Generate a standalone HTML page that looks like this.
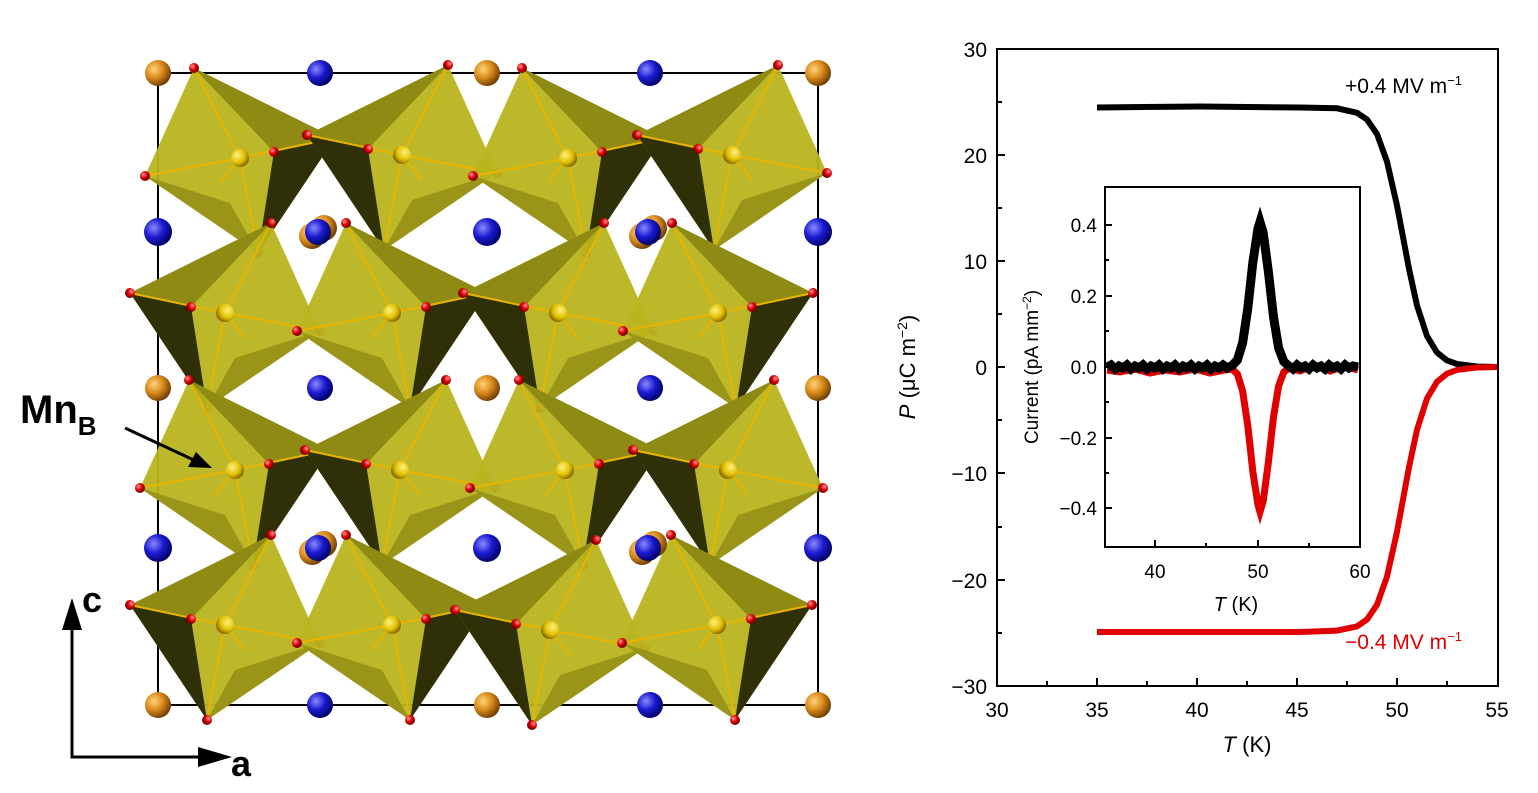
<!DOCTYPE html>
<html><head><meta charset="utf-8"><style>
html,body{margin:0;padding:0;background:#fff;}
svg{display:block;font-family:"Liberation Sans",sans-serif;}
</style></head><body>
<svg width="1538" height="793" viewBox="0 0 1538 793" xmlns="http://www.w3.org/2000/svg">
<defs>
<radialGradient id="gO" cx="0.35" cy="0.35" r="0.7"><stop offset="0" stop-color="#ffd27a"/><stop offset="0.5" stop-color="#d98a1a"/><stop offset="1" stop-color="#6a3a05"/></radialGradient>
<radialGradient id="gB" cx="0.35" cy="0.35" r="0.7"><stop offset="0" stop-color="#8a8aff"/><stop offset="0.5" stop-color="#1a1ad0"/><stop offset="1" stop-color="#000060"/></radialGradient>
<radialGradient id="gR" cx="0.35" cy="0.35" r="0.7"><stop offset="0" stop-color="#ff9a9a"/><stop offset="0.5" stop-color="#dd0000"/><stop offset="1" stop-color="#600000"/></radialGradient>
<radialGradient id="gY" cx="0.35" cy="0.35" r="0.7"><stop offset="0" stop-color="#fff080"/><stop offset="0.6" stop-color="#e0c000"/><stop offset="1" stop-color="#806000"/></radialGradient>
<g id="octA">
<polygon points="-46,-90 95,-20 18,95 -95,18" fill="#b9b41e" fill-opacity="0.95"/>
<polygon points="-46,-90 95,-20 34,-6" fill="#8e8a14"/>
<polygon points="34,-6 95,-20 18,95" fill="#2f2f08"/>
<polygon points="-95,18 18,95 -10,45" fill="#9a9518"/>
<g stroke="#e8b400" stroke-width="2"><line x1="0" y1="0" x2="-46" y2="-90"/><line x1="0" y1="0" x2="95" y2="-20"/><line x1="0" y1="0" x2="18" y2="95"/><line x1="0" y1="0" x2="-95" y2="18"/><line x1="0" y1="0" x2="-20" y2="25"/></g>
<circle r="9" fill="url(#gY)"/>
<circle cx="-46" cy="-90" r="5" fill="url(#gR)"/><circle cx="95" cy="-20" r="5" fill="url(#gR)"/><circle cx="18" cy="95" r="5" fill="url(#gR)"/><circle cx="-95" cy="18" r="5" fill="url(#gR)"/><circle cx="34" cy="-6" r="5" fill="url(#gR)"/>
</g>
<g id="octB"><use href="#octA" transform="scale(-1,1)"/></g>
</defs>

<!-- crystal -->
<rect x="158" y="73" width="660" height="632" fill="none" stroke="#000" stroke-width="2"/>
<use href="#octA" x="240" y="158"/><use href="#octB" x="402" y="155"/><use href="#octA" x="568" y="158"/><use href="#octB" x="732" y="155"/>
<use href="#octB" x="225" y="313"/><use href="#octA" x="392" y="313"/><use href="#octB" x="558" y="313"/><use href="#octA" x="718" y="313"/>
<use href="#octA" x="235" y="470"/><use href="#octB" x="400" y="470"/><use href="#octA" x="565" y="470"/><use href="#octB" x="728" y="470"/>
<use href="#octB" x="225" y="625"/><use href="#octA" x="392" y="625"/><use href="#octB" x="550" y="630"/><use href="#octA" x="717" y="625"/>
<g fill="url(#gO)">
<circle cx="158" cy="73" r="13"/><circle cx="487" cy="73" r="13"/><circle cx="818" cy="73" r="13"/>
<circle cx="158" cy="388" r="13"/><circle cx="487" cy="388" r="13"/><circle cx="818" cy="388" r="13"/>
<circle cx="158" cy="705" r="13"/><circle cx="487" cy="705" r="13"/><circle cx="818" cy="705" r="13"/>
<circle cx="312" cy="236" r="13"/><circle cx="642" cy="236" r="13"/><circle cx="312" cy="552" r="13"/><circle cx="642" cy="552" r="13"/>
<circle cx="324" cy="228" r="13"/><circle cx="654" cy="228" r="13"/><circle cx="324" cy="544" r="13"/><circle cx="654" cy="544" r="13"/>
</g>
<g fill="url(#gB)">
<circle cx="320" cy="73" r="13"/><circle cx="650" cy="73" r="13"/>
<circle cx="158" cy="232" r="14"/><circle cx="487" cy="232" r="14"/><circle cx="818" cy="232" r="14"/>
<circle cx="318" cy="232" r="13"/><circle cx="648" cy="232" r="13"/>
<circle cx="320" cy="388" r="13"/><circle cx="650" cy="388" r="13"/>
<circle cx="158" cy="548" r="14"/><circle cx="487" cy="548" r="14"/><circle cx="818" cy="548" r="14"/>
<circle cx="318" cy="548" r="13"/><circle cx="648" cy="548" r="13"/>
<circle cx="320" cy="705" r="13"/><circle cx="650" cy="705" r="13"/>
</g>
<text x="20" y="423" font-size="40" font-weight="bold">Mn<tspan font-size="26" dy="12">B</tspan></text>
<line x1="125" y1="428" x2="198" y2="462" stroke="#000" stroke-width="3"/>
<polygon points="212,468 188,467 196,452" fill="#000"/>
<polyline points="72,620 72,757 210,757" fill="none" stroke="#000" stroke-width="3"/>
<polygon points="72,598 62,630 82,630" fill="#000"/>
<polygon points="232,757 198,747 198,767" fill="#000"/>
<text x="82" y="612" font-size="36" font-weight="bold">c</text>
<text x="231" y="776" font-size="36" font-weight="bold">a</text>

<!-- main chart -->
<rect x="997" y="49" width="501" height="637" fill="none" stroke="#000" stroke-width="2"/>
<g stroke="#000" stroke-width="2">
<line x1="997" y1="49" x2="1005" y2="49"/><line x1="997" y1="155" x2="1005" y2="155"/><line x1="997" y1="261" x2="1005" y2="261"/><line x1="997" y1="367" x2="1005" y2="367"/><line x1="997" y1="473" x2="1005" y2="473"/><line x1="997" y1="580" x2="1005" y2="580"/>
<line x1="997" y1="102" x2="1002" y2="102"/><line x1="997" y1="208" x2="1002" y2="208"/><line x1="997" y1="314" x2="1002" y2="314"/><line x1="997" y1="420" x2="1002" y2="420"/><line x1="997" y1="527" x2="1002" y2="527"/><line x1="997" y1="633" x2="1002" y2="633"/>
<line x1="1097" y1="686" x2="1097" y2="678"/><line x1="1197" y1="686" x2="1197" y2="678"/><line x1="1297" y1="686" x2="1297" y2="678"/><line x1="1397" y1="686" x2="1397" y2="678"/>
<line x1="1047" y1="686" x2="1047" y2="681"/><line x1="1147" y1="686" x2="1147" y2="681"/><line x1="1247" y1="686" x2="1247" y2="681"/><line x1="1347" y1="686" x2="1347" y2="681"/><line x1="1447" y1="686" x2="1447" y2="681"/>
</g>
<g font-size="21" text-anchor="end">
<text x="987" y="57">30</text><text x="987" y="163">20</text><text x="987" y="269">10</text><text x="987" y="375">0</text><text x="987" y="481">−10</text><text x="987" y="588">−20</text><text x="987" y="694">−30</text>
</g>
<g font-size="21" text-anchor="middle">
<text x="997" y="717">30</text><text x="1097" y="717">35</text><text x="1197" y="717">40</text><text x="1297" y="717">45</text><text x="1397" y="717">50</text><text x="1497" y="717">55</text>
</g>
<text x="1247" y="752" font-size="22" text-anchor="middle"><tspan font-style="italic">T</tspan> (K)</text>
<text transform="translate(915,367) rotate(-90)" font-size="22" text-anchor="middle"><tspan font-style="italic">P</tspan> (μC m<tspan font-size="14" dy="-8">−2</tspan><tspan dy="8">)</tspan></text>

<polyline fill="none" stroke="#000" stroke-width="6" points="1097,107.5 1200,106.5 1300,107.5 1337,108.3 1357,112.8 1367,119.5 1377,134 1387,161.6 1397,205.5 1403,237 1409,268.8 1417,305.5 1427,336 1437,352.5 1447,360.5 1457,364 1477,366.5 1497,367"/>
<polyline fill="none" stroke="#e00000" stroke-width="6" points="1097,632 1200,632 1300,632 1337,630.6 1357,626.4 1367,619.5 1377,604.7 1387,576.6 1397,531.8 1403,499.5 1409,467.2 1417,429.8 1427,398.5 1437,381.8 1447,373.6 1457,369.9 1477,367.5 1497,367"/>
<text x="1345" y="93" font-size="21">+0.4 MV m<tspan font-size="13" dy="-8">−1</tspan></text>
<text x="1345" y="649" font-size="21" fill="#e00000">−0.4 MV m<tspan font-size="13" dy="-8">−1</tspan></text>

<!-- inset -->
<rect x="1105" y="187" width="255" height="360" fill="#fff" stroke="#000" stroke-width="2"/>
<g stroke="#000" stroke-width="2">
<line x1="1105" y1="225" x2="1112" y2="225"/><line x1="1105" y1="296" x2="1112" y2="296"/><line x1="1105" y1="367" x2="1112" y2="367"/><line x1="1105" y1="438" x2="1112" y2="438"/><line x1="1105" y1="508" x2="1112" y2="508"/>
<line x1="1105" y1="260" x2="1109" y2="260"/><line x1="1105" y1="331" x2="1109" y2="331"/><line x1="1105" y1="402" x2="1109" y2="402"/><line x1="1105" y1="473" x2="1109" y2="473"/>
<line x1="1155" y1="547" x2="1155" y2="540"/><line x1="1258" y1="547" x2="1258" y2="540"/><line x1="1206" y1="547" x2="1206" y2="543"/><line x1="1309" y1="547" x2="1309" y2="543"/>
</g>
<g font-size="19" text-anchor="end">
<text x="1097" y="232">0.4</text><text x="1097" y="303">0.2</text><text x="1097" y="374">0.0</text><text x="1097" y="445">−0.2</text><text x="1097" y="515">−0.4</text>
</g>
<g font-size="19" text-anchor="middle">
<text x="1155" y="578">40</text><text x="1258" y="578">50</text><text x="1360" y="578">60</text>
</g>
<text x="1236" y="611" font-size="20" text-anchor="middle"><tspan font-style="italic">T</tspan> (K)</text>
<text transform="translate(1038,367) rotate(-90)" font-size="19" text-anchor="middle">Current (pA mm<tspan font-size="12" dy="-7">−2</tspan><tspan dy="7">)</tspan></text>
<polyline fill="none" stroke="#e00000" stroke-width="7" points="1107,370 1120,372 1135,369 1150,373 1165,370 1180,372 1195,369 1210,373 1225,370 1232,369 1237.4,374 1242.6,391 1247.7,425 1252.9,472 1258,505 1260,512 1263.2,501 1268.3,463 1273.5,417 1278.6,386 1283.8,372 1288.9,368 1300,371 1315,365 1330,371 1345,366 1358,370"/>
<polyline fill="none" stroke="#000" stroke-width="9" points="1107,367 1111,365 1115,369 1119,366 1123,368 1127,365 1131,369 1135,366 1139,368 1143,365 1147,369 1151,366 1155,368 1159,365 1163,369 1167,366 1171,368 1175,365 1179,369 1183,366 1187,368 1191,365 1195,369 1199,366 1203,368 1207,365 1211,369 1215,366 1219,368 1223,365 1227,368 1232.3,365.4 1237.4,360 1242.6,343 1247.7,309 1252.9,262 1258,228.5 1260,222 1263.2,232.7 1268.3,271 1273.5,317 1278.6,348 1283.8,361.6 1288.9,366 1293,369 1297,365 1301,368 1305,366 1309,369 1313,365 1317,368 1321,366 1325,369 1329,365 1333,368 1337,366 1341,369 1345,365 1349,368 1353,366 1358,367"/>
</svg>
</body></html>
